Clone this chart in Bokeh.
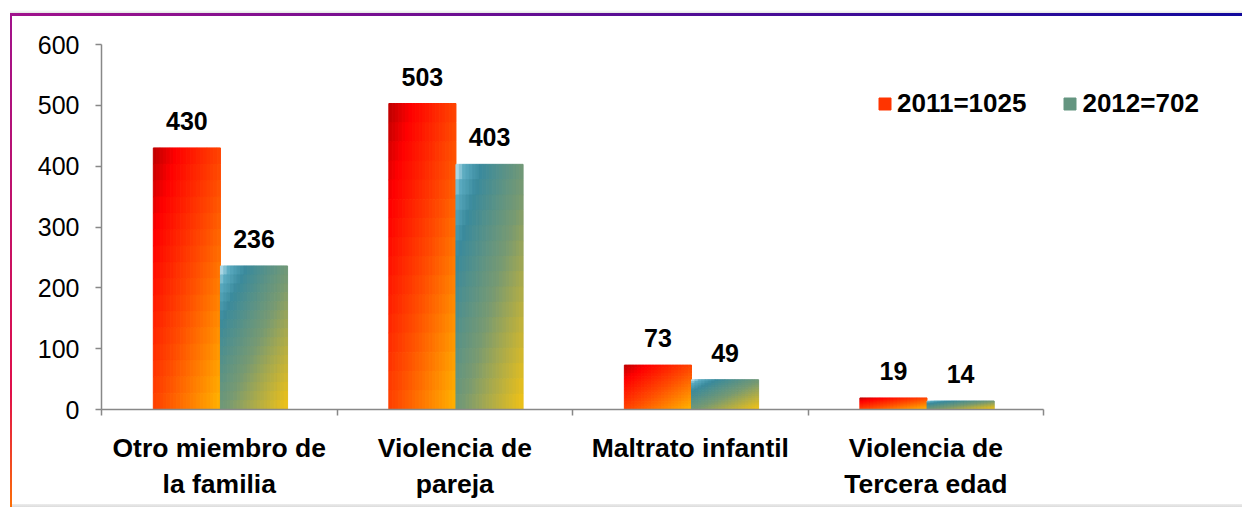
from bokeh.plotting import figure
from bokeh.models import (FixedTicker, Legend, LegendItem, ColumnDataSource,
                          Range1d)
from bokeh.core.properties import value
from bokeh.embed import file_html
from bokeh.resources import INLINE

# ---- data ----
categories = ["Otro miembro de\nla familia", "Violencia de\npareja",
              "Maltrato infantil", "Violencia de\nTercera edad"]
v2011 = [430, 503, 73, 19]
v2012 = [236, 403, 49, 14]
series_labels = ["2011=1025", "2012=702"]
y_ticks = [0, 100, 200, 300, 400, 500, 600]

# ---- styles ----
FONT = "Liberation Sans"
BAR_W = 0.285
LEFTS = [0.22, 0.505]  # bar left edge within each category slot
red_stops = [(0.0, "#b80000"), (0.18, "#ff0000"), (0.55, "#ff4c00"), (1.0, "#ffb400")]
teal_stops = [(0.0, "#d4eef8"), (0.08, "#5aaac0"), (0.2, "#3a8a9c"), (0.55, "#789a72"), (1.0, "#f2c214")]
STOPS = [red_stops, teal_stops]
NX, NY = 20, 16


def hex2rgb(h):
    h = h.lstrip("#")
    return tuple(int(h[i:i + 2], 16) for i in (0, 2, 4))


def interp(stops, t):
    t = max(0.0, min(1.0, t))
    for (t0, c0), (t1, c1) in zip(stops[:-1], stops[1:]):
        if t <= t1:
            f = 0 if t1 == t0 else (t - t0) / (t1 - t0)
            a, b = hex2rgb(c0), hex2rgb(c1)
            return "#%02x%02x%02x" % tuple(int(round(a[k] + (b[k] - a[k]) * f)) for k in range(3))
    return stops[-1][1]


p = figure(width=1242, height=507, x_range=Range1d(0, 4.836), y_range=Range1d(0, 600),
           output_backend="svg", toolbar_location=None,
           min_border_left=101, min_border_right=2, min_border_top=44, min_border_bottom=98)
p.xgrid.visible = False
p.ygrid.visible = False
p.outline_line_color = None
p.border_fill_color = None
p.background_fill_color = "white"
p.styles = {
    "background-image": "linear-gradient(to right, #a0128c, #10089c), "
                        "linear-gradient(to bottom, #a0128c, #e0104a 75%, #ff7a00), "
                        "linear-gradient(to bottom, #ffffff, #e4e4e4), "
                        "linear-gradient(to bottom, #ececec, #dcdcdc)",
    "background-size": "100% 3px, 2px 100%, 100% 3px, 100% 3px",
    "background-position": "10px 13px, 10px 13px, 10px 10px, 12px 504px",
    "background-repeat": "no-repeat",
}

# ---- bars as gradient cells ----
renderers = []
for s, vals in enumerate([v2011, v2012]):
    cells = dict(left=[], right=[], top=[], bottom=[], color=[])
    for i, val in enumerate(vals):
        x0 = i + LEFTS[s]
        for jx in range(NX):
            for jy in range(NY):
                u = (jx + 0.5) / NX
                v = (jy + 0.5) / NY
                cells["left"].append(x0 + BAR_W * jx / NX)
                cells["right"].append(x0 + BAR_W * (jx + 1) / NX)
                cells["top"].append(val * (1 - jy / NY))
                cells["bottom"].append(val * (1 - (jy + 1) / NY))
                cells["color"].append(interp(STOPS[s], (u + v) / 2))
    r = p.quad(left="left", right="right", top="top", bottom="bottom", fill_color="color",
               line_color="color", line_width=1.0, source=ColumnDataSource(cells))
    renderers.append(r)

# ---- data labels ----
lab = dict(x=[], y=[], t=[])
for s, vals in enumerate([v2011, v2012]):
    for i, val in enumerate(vals):
        lab["x"].append(i + LEFTS[s] + BAR_W / 2)
        lab["y"].append(val)
        lab["t"].append(str(val))
p.text(x="x", y="y", text="t", source=ColumnDataSource(lab), text_align="center",
       text_baseline="alphabetic", y_offset=-27, text_font=value(FONT),
       text_font_style="bold", text_font_size="25px", text_color="black")

# ---- axes ----
xa = p.xaxis[0]
xa.ticker = FixedTicker(ticks=[i + 0.5 for i in range(len(categories))],
                        minor_ticks=list(range(len(categories) + 1)))
xa.bounds = (0, len(categories))
xa.major_label_overrides = {i + 0.5: c for i, c in enumerate(categories)}
xa.major_tick_in = 0
xa.major_tick_out = 0
xa.minor_tick_in = 0
xa.minor_tick_out = 6
xa.axis_line_color = "#888888"
xa.minor_tick_line_color = "#888888"
xa.axis_line_width = 1.5
xa.minor_tick_line_width = 1.5
xa.major_label_text_font = FONT
xa.major_label_text_font_style = "bold"
xa.major_label_text_font_size = "26.5px"
xa.major_label_text_color = "black"
xa.major_label_standoff = 17

ya = p.yaxis[0]
ya.ticker = FixedTicker(ticks=y_ticks, minor_ticks=[])
ya.bounds = (0, 600)
ya.major_tick_in = 0
ya.major_tick_out = 6
ya.axis_line_color = "#888888"
ya.major_tick_line_color = "#888888"
ya.axis_line_width = 1.5
ya.major_tick_line_width = 1.5
ya.major_label_text_font = FONT
ya.major_label_text_font_size = "25px"
ya.major_label_text_color = "black"
ya.major_label_standoff = 16

# ---- legend (square colour taken from a cell of each series' first bar) ----
mid = (NX // 2) * NY + NY // 3
legend = Legend(items=[LegendItem(label=series_labels[0], renderers=[renderers[0]], index=mid),
                       LegendItem(label=series_labels[1], renderers=[renderers[1]], index=mid)],
                orientation="horizontal", location=(776, 290), border_line_color=None,
                background_fill_alpha=0, glyph_width=15, glyph_height=15,
                label_standoff=5, spacing=36, padding=0, margin=0,
                label_text_font=FONT, label_text_font_style="bold",
                label_text_font_size="26px", label_text_color="black")
p.add_layout(legend)

open("out.html", "w").write(file_html(p, INLINE))
